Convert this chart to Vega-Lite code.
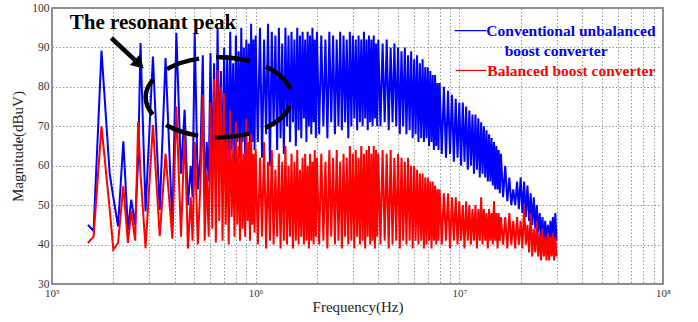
{
  "$schema": "https://vega.github.io/schema/vega-lite/v6.json",
  "width": 611,
  "height": 276,
  "autosize": {"type": "none"},
  "padding": {"left": 52, "top": 8, "right": 35, "bottom": 38},
  "background": "white",
  "config": {
    "view": {"stroke": "#666666", "strokeWidth": 1.5},
    "font": "Liberation Serif",
    "style": {
      "guide-label": {"font": "Liberation Serif"},
      "guide-title": {"font": "Liberation Serif"}
    },
    "axis": {
      "labelFont": "Liberation Serif",
      "titleFont": "Liberation Serif",
      "titleFontWeight": "normal",
      "labelColor": "#333333",
      "titleColor": "#222222",
      "grid": true,
      "gridColor": "#999999",
      "gridDash": [1.5, 2],
      "gridOpacity": 1,
      "domain": false,
      "ticks": false,
      "labelOverlap": false,
      "labelFlush": false
    },
    "axisX": {"labelFontSize": 11, "labelPadding": 3, "titleFontSize": 15, "titlePadding": 1},
    "axisY": {"labelFontSize": 11.5, "labelPadding": 3, "titleFontSize": 15, "titlePadding": 6}
  },
  "datasets": {
    "spectrum": [
      {"f":150000,"b":45.0,"r":40.4},
      {"f":160000,"b":43.5,"r":42.0},
      {"f":175000,"b":89.2,"r":70.0},
      {"f":192000,"b":58.0,"r":49.0},
      {"f":200000,"b":52.0,"r":38.7},
      {"f":211000,"b":44.6,"r":40.4},
      {"f":224000,"b":66.2,"r":54.8},
      {"f":236000,"b":43.7,"r":40.4},
      {"f":245000,"b":51.4,"r":48.5},
      {"f":256000,"b":45.0,"r":41.0},
      {"f":265000,"b":62.0,"r":71.2},
      {"f":272000,"b":91.1,"r":58.0},
      {"f":288000,"b":48.4,"r":39.1},
      {"f":313000,"b":87.7,"r":70.4},
      {"f":338000,"b":48.8,"r":42.1},
      {"f":361000,"b":87.3,"r":63.0},
      {"f":390000,"b":44.6,"r":41.5},
      {"f":408000,"b":93.7,"r":75.0},
      {"f":430000,"b":58.0,"r":42.0},
      {"f":448000,"b":74.2,"r":69.0},
      {"f":465000,"b":50.0,"r":39.0},
      {"f":480000,"b":60.0,"r":52.0},
      {"f":490000,"b":52.0,"r":41.0},
      {"f":502000,"b":93.7,"r":66.0},
      {"f":520000,"b":54.0,"r":40.0},
      {"f":535000,"b":62.0,"r":55.0},
      {"f":550000,"b":88.0,"r":78.0},
      {"f":562000,"b":52.0,"r":41.0},
      {"f":575000,"b":66.0,"r":58.0},
      {"f":588000,"b":56.0,"r":42.0},
      {"f":600000,"b":88.6,"r":76.0},
      {"f":612500,"b":58,"r":44},
      {"f":625000,"b":86,"r":82},
      {"f":637500,"b":54,"r":40.5},
      {"f":650000,"b":95,"r":84.3},
      {"f":662500,"b":60,"r":46},
      {"f":675000,"b":84,"r":80},
      {"f":687500,"b":56,"r":41},
      {"f":700000,"b":90,"r":78.4},
      {"f":712500,"b":62,"r":45},
      {"f":725000,"b":88,"r":68},
      {"f":737500,"b":58,"r":40},
      {"f":750000,"b":94,"r":74},
      {"f":762500,"b":64,"r":47},
      {"f":775000,"b":86,"r":64},
      {"f":787500,"b":60,"r":42},
      {"f":800000,"b":93,"r":71},
      {"f":812500,"b":66,"r":45},
      {"f":825000,"b":89,"r":65},
      {"f":837500,"b":62,"r":41},
      {"f":850000,"b":95,"r":68},
      {"f":862500,"b":66,"r":44},
      {"f":875000,"b":90,"r":63},
      {"f":887500,"b":63,"r":42},
      {"f":900000,"b":92,"r":72},
      {"f":912500,"b":68,"r":46},
      {"f":925000,"b":91,"r":66},
      {"f":937500,"b":64,"r":41},
      {"f":950000,"b":96,"r":68},
      {"f":962500,"b":66,"r":45},
      {"f":975000,"b":92,"r":63},
      {"f":987500,"b":64,"r":43},
      {"f":1000000,"b":93,"r":64},
      {"f":1025000,"b":66,"r":40},
      {"f":1050000,"b":95,"r":62},
      {"f":1075000,"b":62,"r":42},
      {"f":1100000,"b":92,"r":66},
      {"f":1125000,"b":68,"r":39},
      {"f":1150000,"b":96,"r":61},
      {"f":1175000,"b":60,"r":41},
      {"f":1200000,"b":94,"r":64},
      {"f":1225000,"b":70,"r":40},
      {"f":1250000,"b":93,"r":59},
      {"f":1275000,"b":64,"r":42},
      {"f":1300000,"b":95,"r":63},
      {"f":1325000,"b":67,"r":39},
      {"f":1350000,"b":91,"r":61},
      {"f":1375000,"b":63,"r":41},
      {"f":1400000,"b":95,"r":65},
      {"f":1425000,"b":70,"r":40},
      {"f":1450000,"b":93,"r":60},
      {"f":1475000,"b":66,"r":42},
      {"f":1500000,"b":94,"r":63},
      {"f":1525000,"b":71,"r":39},
      {"f":1550000,"b":92,"r":61},
      {"f":1575000,"b":65,"r":41},
      {"f":1600000,"b":95,"r":64},
      {"f":1625000,"b":69,"r":40},
      {"f":1650000,"b":93,"r":59},
      {"f":1675000,"b":67,"r":42},
      {"f":1700000,"b":94,"r":62},
      {"f":1725000,"b":72,"r":40},
      {"f":1750000,"b":92,"r":63},
      {"f":1775000,"b":66,"r":41},
      {"f":1800000,"b":94,"r":60},
      {"f":1825000,"b":70,"r":39},
      {"f":1850000,"b":93,"r":63},
      {"f":1875000,"b":68,"r":41},
      {"f":1900000,"b":95,"r":61},
      {"f":1925000,"b":71,"r":40},
      {"f":1950000,"b":92,"r":64},
      {"f":1975000,"b":67,"r":42},
      {"f":2000000,"b":94,"r":62},
      {"f":2050000,"b":68,"r":40},
      {"f":2100000,"b":93,"r":63},
      {"f":2150000,"b":70,"r":41},
      {"f":2200000,"b":92,"r":61},
      {"f":2250000,"b":67,"r":39},
      {"f":2300000,"b":94,"r":64},
      {"f":2350000,"b":71,"r":42},
      {"f":2400000,"b":93,"r":62},
      {"f":2450000,"b":68,"r":40},
      {"f":2500000,"b":92,"r":64},
      {"f":2550000,"b":70,"r":41},
      {"f":2600000,"b":94,"r":61},
      {"f":2650000,"b":69,"r":39},
      {"f":2700000,"b":93,"r":63},
      {"f":2750000,"b":71,"r":42},
      {"f":2800000,"b":92,"r":62},
      {"f":2850000,"b":67,"r":40},
      {"f":2900000,"b":94,"r":65},
      {"f":2950000,"b":70,"r":41},
      {"f":3000000,"b":93,"r":63},
      {"f":3050000,"b":72,"r":39},
      {"f":3100000,"b":92,"r":64},
      {"f":3150000,"b":69,"r":42},
      {"f":3200000,"b":93,"r":62},
      {"f":3250000,"b":71,"r":40},
      {"f":3300000,"b":92,"r":65},
      {"f":3350000,"b":70,"r":41},
      {"f":3400000,"b":94,"r":63},
      {"f":3450000,"b":72,"r":39},
      {"f":3500000,"b":92,"r":64},
      {"f":3550000,"b":69,"r":42},
      {"f":3600000,"b":93,"r":65},
      {"f":3650000,"b":71,"r":40},
      {"f":3700000,"b":92,"r":63},
      {"f":3750000,"b":70,"r":41},
      {"f":3800000,"b":93,"r":65},
      {"f":3850000,"b":72,"r":39},
      {"f":3900000,"b":91,"r":64},
      {"f":3950000,"b":70,"r":42},
      {"f":4000000,"b":92,"r":63},
      {"f":4100000,"b":70,"r":40},
      {"f":4200000,"b":91,"r":64},
      {"f":4300000,"b":71,"r":41},
      {"f":4400000,"b":92,"r":63},
      {"f":4500000,"b":69,"r":39},
      {"f":4600000,"b":90,"r":64},
      {"f":4700000,"b":71,"r":40},
      {"f":4800000,"b":91,"r":62},
      {"f":4900000,"b":70,"r":41},
      {"f":5000000,"b":90,"r":63},
      {"f":5100000,"b":68,"r":39},
      {"f":5200000,"b":89,"r":62},
      {"f":5300000,"b":70,"r":41},
      {"f":5400000,"b":90,"r":61},
      {"f":5500000,"b":68,"r":40},
      {"f":5600000,"b":88,"r":62},
      {"f":5700000,"b":69,"r":41},
      {"f":5800000,"b":89,"r":60},
      {"f":5900000,"b":67,"r":39},
      {"f":6000000,"b":87,"r":60},
      {"f":6100000,"b":68,"r":41},
      {"f":6200000,"b":88,"r":59},
      {"f":6300000,"b":66,"r":40},
      {"f":6400000,"b":86,"r":58},
      {"f":6500000,"b":67,"r":41},
      {"f":6600000,"b":87,"r":58},
      {"f":6700000,"b":66,"r":39},
      {"f":6800000,"b":85,"r":57},
      {"f":6900000,"b":67,"r":40},
      {"f":7000000,"b":85,"r":57},
      {"f":7100000,"b":65,"r":41},
      {"f":7200000,"b":84,"r":56},
      {"f":7300000,"b":66,"r":39},
      {"f":7400000,"b":83,"r":56},
      {"f":7500000,"b":64,"r":41},
      {"f":7600000,"b":83,"r":55},
      {"f":7700000,"b":65,"r":40},
      {"f":7800000,"b":81,"r":54},
      {"f":7900000,"b":64,"r":41},
      {"f":8000000,"b":81,"r":54},
      {"f":8200000,"b":63,"r":40},
      {"f":8400000,"b":80,"r":53},
      {"f":8600000,"b":62,"r":41},
      {"f":8800000,"b":79,"r":53},
      {"f":9000000,"b":63,"r":39},
      {"f":9200000,"b":78,"r":52},
      {"f":9400000,"b":61,"r":41},
      {"f":9600000,"b":77,"r":52},
      {"f":9800000,"b":62,"r":40},
      {"f":10000000,"b":76,"r":51},
      {"f":10200000,"b":60,"r":41},
      {"f":10400000,"b":76,"r":50},
      {"f":10600000,"b":61,"r":39},
      {"f":10800000,"b":75,"r":51},
      {"f":11000000,"b":59,"r":41},
      {"f":11200000,"b":74,"r":50},
      {"f":11400000,"b":60,"r":40},
      {"f":11600000,"b":73,"r":49},
      {"f":11800000,"b":58,"r":41},
      {"f":12000000,"b":73,"r":50},
      {"f":12200000,"b":59,"r":39},
      {"f":12400000,"b":72,"r":49},
      {"f":12600000,"b":57,"r":41},
      {"f":12800000,"b":71,"r":52},
      {"f":13000000,"b":58,"r":40},
      {"f":13200000,"b":70,"r":49},
      {"f":13400000,"b":57,"r":41},
      {"f":13600000,"b":69,"r":48},
      {"f":13800000,"b":56,"r":39},
      {"f":14000000,"b":68,"r":49},
      {"f":14200000,"b":56,"r":41},
      {"f":14400000,"b":67,"r":48},
      {"f":14600000,"b":55,"r":40},
      {"f":14800000,"b":66,"r":51},
      {"f":15000000,"b":54,"r":41},
      {"f":15200000,"b":65,"r":48},
      {"f":15400000,"b":54,"r":39},
      {"f":15600000,"b":64,"r":48},
      {"f":15800000,"b":53,"r":41},
      {"f":16000000,"b":63,"r":47},
      {"f":16400000,"b":52,"r":40},
      {"f":16800000,"b":60,"r":47},
      {"f":17200000,"b":51,"r":39},
      {"f":17600000,"b":57,"r":48},
      {"f":18000000,"b":50,"r":40},
      {"f":18400000,"b":54,"r":46},
      {"f":18800000,"b":50,"r":39},
      {"f":19200000,"b":56,"r":47},
      {"f":19600000,"b":49,"r":40},
      {"f":20000000,"b":57,"r":46},
      {"f":20400000,"b":48,"r":39},
      {"f":20800000,"b":56,"r":50},
      {"f":21200000,"b":47,"r":40},
      {"f":21600000,"b":55,"r":45},
      {"f":22000000,"b":46,"r":38},
      {"f":22400000,"b":53,"r":48},
      {"f":22800000,"b":45,"r":37},
      {"f":23200000,"b":52,"r":44},
      {"f":23600000,"b":44,"r":38},
      {"f":24000000,"b":50,"r":46},
      {"f":24400000,"b":43,"r":37},
      {"f":24800000,"b":48,"r":43},
      {"f":25200000,"b":42,"r":36},
      {"f":25600000,"b":47,"r":44},
      {"f":26000000,"b":41,"r":37},
      {"f":26400000,"b":46,"r":42},
      {"f":26800000,"b":40,"r":36},
      {"f":27200000,"b":45,"r":43},
      {"f":27600000,"b":40,"r":36},
      {"f":28000000,"b":46,"r":42},
      {"f":28400000,"b":40,"r":37},
      {"f":28800000,"b":47,"r":43},
      {"f":29200000,"b":40,"r":36},
      {"f":29600000,"b":48,"r":42},
      {"f":30000000,"b":41,"r":37}
    ],
    "legendText": [
      {"series":"Conventional unbalanced boost converter","label":"Conventional unbalanced","f":13570000,"v":92.85},
      {"series":"Conventional unbalanced boost converter","label":"boost converter","f":16690000,"v":87.9},
      {"series":"Balanced boost converter","label":"Balanced boost converter","f":13730000,"v":82.83}
    ],
    "legendLines": [
      {"series":"Conventional unbalanced boost converter","f":9480000,"f2":13570000,"v":94.24},
      {"series":"Balanced boost converter","f":9600000,"f2":13570000,"v":84.17}
    ],
    "callout": [
      {"label":"The resonant peak","f":122200,"v":94.67}
    ],
    "arrow": [
      {"f":195700,"v":92.39,"f2":268000,"v2":85.75}
    ],
    "ring": [
      {"f":658000,"v":77.38}
    ]
  },
  "layer": [
    {
      "data": {"name": "spectrum"},
      "mark": {"type": "line", "color": "#0000ff", "strokeWidth": 2, "clip": true},
      "encoding": {
        "x": {"field": "f", "type": "quantitative", "scale": {"type": "log", "domain": [100000, 100000000], "nice": false},
          "axis": {"values": [100000,200000,300000,400000,500000,600000,700000,800000,900000,1000000,2000000,3000000,4000000,5000000,6000000,7000000,8000000,9000000,10000000,20000000,30000000,40000000,50000000,60000000,70000000,80000000,90000000,100000000], "labelExpr": "datum.value == 100000 ? '10⁵' : datum.value == 1000000 ? '10⁶' : datum.value == 10000000 ? '10⁷' : datum.value == 100000000 ? '10⁸' : ''", "title": "Frequency(Hz)"}},
        "y": {"field": "b", "type": "quantitative", "scale": {"domain": [30, 100], "nice": false, "zero": false},
          "axis": {"values": [30,40,50,60,70,80,90,100], "title": "Magnitude(dBuV)"}}
      }
    },
    {
      "data": {"name": "spectrum"},
      "mark": {"type": "line", "color": "#ff0000", "strokeWidth": 2, "clip": true},
      "encoding": {
        "x": {"field": "f", "type": "quantitative", "scale": {"type": "log", "domain": [100000, 100000000], "nice": false},
          "axis": {"values": [100000,200000,300000,400000,500000,600000,700000,800000,900000,1000000,2000000,3000000,4000000,5000000,6000000,7000000,8000000,9000000,10000000,20000000,30000000,40000000,50000000,60000000,70000000,80000000,90000000,100000000], "labelExpr": "datum.value == 100000 ? '10⁵' : datum.value == 1000000 ? '10⁶' : datum.value == 10000000 ? '10⁷' : datum.value == 100000000 ? '10⁸' : ''", "title": "Frequency(Hz)"}},
        "y": {"field": "r", "type": "quantitative", "scale": {"domain": [30, 100], "nice": false, "zero": false},
          "axis": {"values": [30,40,50,60,70,80,90,100], "title": "Magnitude(dBuV)"}}
      }
    },
    {
      "data": {"name": "ring"},
      "mark": {
        "type": "point",
        "shape": "M-1,0A1,0.548,0,1,1,1,0A1,0.548,0,1,1,-1,0Z",
        "size": 21316,
        "filled": false,
        "color": "black",
        "strokeWidth": 4.5,
        "strokeDash": [34, 17],
        "strokeDashOffset": 14,
        "opacity": 1
      },
      "encoding": {
        "x": {"field": "f", "type": "quantitative", "scale": {"type": "log", "domain": [100000, 100000000], "nice": false},
          "axis": {"values": [100000,200000,300000,400000,500000,600000,700000,800000,900000,1000000,2000000,3000000,4000000,5000000,6000000,7000000,8000000,9000000,10000000,20000000,30000000,40000000,50000000,60000000,70000000,80000000,90000000,100000000], "labelExpr": "datum.value == 100000 ? '10⁵' : datum.value == 1000000 ? '10⁶' : datum.value == 10000000 ? '10⁷' : datum.value == 100000000 ? '10⁸' : ''", "title": "Frequency(Hz)"}},
        "y": {"field": "v", "type": "quantitative", "scale": {"domain": [30, 100], "nice": false, "zero": false},
          "axis": {"values": [30,40,50,60,70,80,90,100], "title": "Magnitude(dBuV)"}}
      }
    },
    {
      "data": {"name": "arrow"},
      "mark": {"type": "rule", "color": "black", "strokeWidth": 4.5},
      "encoding": {
        "x": {"field": "f", "type": "quantitative", "scale": {"type": "log", "domain": [100000, 100000000], "nice": false},
          "axis": {"values": [100000,200000,300000,400000,500000,600000,700000,800000,900000,1000000,2000000,3000000,4000000,5000000,6000000,7000000,8000000,9000000,10000000,20000000,30000000,40000000,50000000,60000000,70000000,80000000,90000000,100000000], "labelExpr": "datum.value == 100000 ? '10⁵' : datum.value == 1000000 ? '10⁶' : datum.value == 10000000 ? '10⁷' : datum.value == 100000000 ? '10⁸' : ''", "title": "Frequency(Hz)"}},
        "y": {"field": "v", "type": "quantitative", "scale": {"domain": [30, 100], "nice": false, "zero": false},
          "axis": {"values": [30,40,50,60,70,80,90,100], "title": "Magnitude(dBuV)"}},
        "x2": {"field": "f2"},
        "y2": {"field": "v2"}
      }
    },
    {
      "data": {"name": "arrow"},
      "mark": {"type": "point", "shape": "triangle-right", "angle": 43.5, "size": 200, "filled": true, "color": "black", "opacity": 1},
      "encoding": {
        "x": {"field": "f2", "type": "quantitative", "scale": {"type": "log", "domain": [100000, 100000000], "nice": false},
          "axis": {"values": [100000,200000,300000,400000,500000,600000,700000,800000,900000,1000000,2000000,3000000,4000000,5000000,6000000,7000000,8000000,9000000,10000000,20000000,30000000,40000000,50000000,60000000,70000000,80000000,90000000,100000000], "labelExpr": "datum.value == 100000 ? '10⁵' : datum.value == 1000000 ? '10⁶' : datum.value == 10000000 ? '10⁷' : datum.value == 100000000 ? '10⁸' : ''", "title": "Frequency(Hz)"}},
        "y": {"field": "v2", "type": "quantitative", "scale": {"domain": [30, 100], "nice": false, "zero": false},
          "axis": {"values": [30,40,50,60,70,80,90,100], "title": "Magnitude(dBuV)"}}
      }
    },
    {
      "data": {"name": "callout"},
      "mark": {"type": "text", "font": "Liberation Serif", "fontWeight": "bold", "fontSize": 21, "color": "black", "align": "left", "baseline": "alphabetic"},
      "encoding": {
        "x": {"field": "f", "type": "quantitative", "scale": {"type": "log", "domain": [100000, 100000000], "nice": false},
          "axis": {"values": [100000,200000,300000,400000,500000,600000,700000,800000,900000,1000000,2000000,3000000,4000000,5000000,6000000,7000000,8000000,9000000,10000000,20000000,30000000,40000000,50000000,60000000,70000000,80000000,90000000,100000000], "labelExpr": "datum.value == 100000 ? '10⁵' : datum.value == 1000000 ? '10⁶' : datum.value == 10000000 ? '10⁷' : datum.value == 100000000 ? '10⁸' : ''", "title": "Frequency(Hz)"}},
        "y": {"field": "v", "type": "quantitative", "scale": {"domain": [30, 100], "nice": false, "zero": false},
          "axis": {"values": [30,40,50,60,70,80,90,100], "title": "Magnitude(dBuV)"}},
        "text": {"field": "label"}
      }
    },
    {
      "data": {"name": "legendLines"},
      "mark": {"type": "rule", "strokeWidth": 1.2},
      "encoding": {
        "x": {"field": "f", "type": "quantitative", "scale": {"type": "log", "domain": [100000, 100000000], "nice": false},
          "axis": {"values": [100000,200000,300000,400000,500000,600000,700000,800000,900000,1000000,2000000,3000000,4000000,5000000,6000000,7000000,8000000,9000000,10000000,20000000,30000000,40000000,50000000,60000000,70000000,80000000,90000000,100000000], "labelExpr": "datum.value == 100000 ? '10⁵' : datum.value == 1000000 ? '10⁶' : datum.value == 10000000 ? '10⁷' : datum.value == 100000000 ? '10⁸' : ''", "title": "Frequency(Hz)"}},
        "x2": {"field": "f2"},
        "y": {"field": "v", "type": "quantitative", "scale": {"domain": [30, 100], "nice": false, "zero": false},
          "axis": {"values": [30,40,50,60,70,80,90,100], "title": "Magnitude(dBuV)"}},
        "color": {"field": "series", "type": "nominal", "scale": {"domain": ["Conventional unbalanced boost converter", "Balanced boost converter"], "range": ["#0000ff", "#ff0000"]}, "legend": null}
      }
    },
    {
      "data": {"name": "legendText"},
      "mark": {"type": "text", "font": "Liberation Serif", "fontWeight": "bold", "fontSize": 15.5, "align": "left", "baseline": "alphabetic"},
      "encoding": {
        "x": {"field": "f", "type": "quantitative", "scale": {"type": "log", "domain": [100000, 100000000], "nice": false},
          "axis": {"values": [100000,200000,300000,400000,500000,600000,700000,800000,900000,1000000,2000000,3000000,4000000,5000000,6000000,7000000,8000000,9000000,10000000,20000000,30000000,40000000,50000000,60000000,70000000,80000000,90000000,100000000], "labelExpr": "datum.value == 100000 ? '10⁵' : datum.value == 1000000 ? '10⁶' : datum.value == 10000000 ? '10⁷' : datum.value == 100000000 ? '10⁸' : ''", "title": "Frequency(Hz)"}},
        "y": {"field": "v", "type": "quantitative", "scale": {"domain": [30, 100], "nice": false, "zero": false},
          "axis": {"values": [30,40,50,60,70,80,90,100], "title": "Magnitude(dBuV)"}},
        "text": {"field": "label"},
        "color": {"field": "series", "type": "nominal", "scale": {"domain": ["Conventional unbalanced boost converter", "Balanced boost converter"], "range": ["#0000ff", "#ff0000"]}, "legend": null}
      }
    }
  ]
}
